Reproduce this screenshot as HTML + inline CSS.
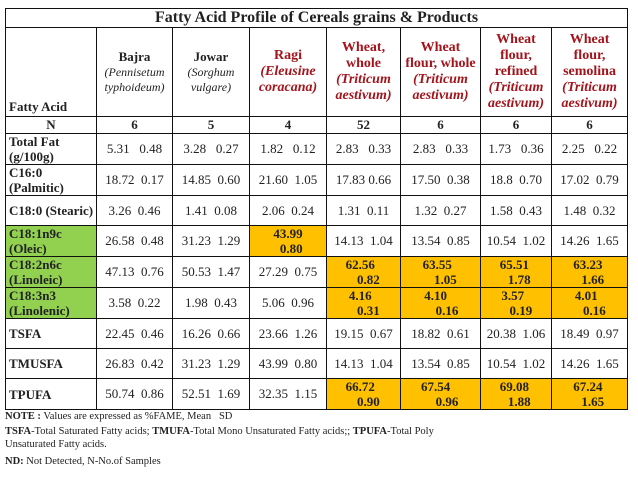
<!DOCTYPE html>
<html><head><meta charset="utf-8">
<style>
html,body{margin:0;padding:0;background:#fff;width:638px;height:479px;overflow:hidden;}
body{font-family:"Liberation Serif",serif;color:#222;position:relative;}
table{position:absolute;left:5px;top:8px;border-collapse:collapse;table-layout:fixed;width:622px;}
td{border:1px solid #111;padding:0;text-align:center;vertical-align:middle;font-size:13px;white-space:pre;overflow:hidden;}
td.lab{text-align:left;font-weight:bold;padding-left:3px;font-size:13px;line-height:15px;white-space:normal;}
.title{font-weight:bold;font-size:16px;}
.hd{font-size:12px;line-height:15px;white-space:normal;}
.hd b{font-size:13px;}
.red{color:#a3141c;font-weight:bold;font-size:14px;line-height:16px;white-space:nowrap;}
.red i{font-weight:bold;}
.n{font-weight:bold;font-size:13px;}
.g{background:#92d050;}
.y{background:#ffc000;font-weight:bold;line-height:15px;}
.note{position:absolute;left:5px;font-size:10.5px;color:#222;white-space:nowrap;line-height:12px;}
</style></head><body>
<table>
<colgroup><col style="width:91px"><col style="width:76px"><col style="width:77px"><col style="width:77px"><col style="width:74px"><col style="width:80px"><col style="width:71px"><col style="width:76px"></colgroup>
<tr style="height:19px"><td colspan="8" class="title">Fatty Acid Profile of Cereals grains &amp; Products</td></tr>
<tr style="height:89px">
<td class="lab" style="vertical-align:bottom;padding-bottom:2px">Fatty Acid</td>
<td class="hd"><b>Bajra</b><br><i>(Pennisetum typhoideum)</i></td>
<td class="hd"><b>Jowar</b><br><i>(Sorghum vulgare)</i></td>
<td class="red">Ragi<br><i>(Eleusine<br>coracana)</i></td>
<td class="red">Wheat,<br>whole<br><i>(Triticum<br>aestivum)</i></td>
<td class="red">Wheat<br>flour, whole<br><i>(Triticum<br>aestivum)</i></td>
<td class="red">Wheat<br>flour,<br>refined<br><i>(Triticum<br>aestivum)</i></td>
<td class="red">Wheat<br>flour,<br>semolina<br><i>(Triticum<br>aestivum)</i></td>
</tr>
<tr style="height:16px"><td class="n">N</td><td class="n">6</td><td class="n">5</td><td class="n">4</td><td class="n">52</td><td class="n">6</td><td class="n">6</td><td class="n">6</td></tr>
<tr style="height:30px"><td class="lab">Total Fat (g/100g)</td><td>5.31   0.48</td><td>3.28   0.27</td><td>1.82   0.12</td><td>2.83   0.33</td><td>2.83   0.33</td><td>1.73   0.36</td><td>2.25   0.22</td></tr>
<tr style="height:30px"><td class="lab">C16:0 (Palmitic)</td><td>18.72  0.17</td><td>14.85  0.60</td><td>21.60  1.05</td><td>17.83 0.66</td><td>17.50  0.38</td><td>18.8  0.70</td><td>17.02  0.79</td></tr>
<tr style="height:30px"><td class="lab">C18:0 (Stearic)</td><td>3.26  0.46</td><td>1.41  0.08</td><td>2.06  0.24</td><td>1.31  0.11</td><td>1.32  0.27</td><td>1.58  0.43</td><td>1.48  0.32</td></tr>
<tr style="height:29px"><td class="lab g">C18:1n9c (Oleic)</td><td>26.58  0.48</td><td>31.23  1.29</td><td class="y">43.99
  0.80</td><td>14.13  1.04</td><td>13.54  0.85</td><td>10.54  1.02</td><td>14.26  1.65</td></tr>
<tr style="height:30px"><td class="lab g">C18:2n6c (Linoleic)</td><td>47.13  0.76</td><td>50.53  1.47</td><td>27.29  0.75</td><td class="y">62.56  
   0.82</td><td class="y">63.55  
   1.05</td><td class="y">65.51 
  1.78</td><td class="y">63.23 
  1.66</td></tr>
<tr style="height:30px"><td class="lab g">C18:3n3 (Linolenic)</td><td>3.58  0.22</td><td>1.98  0.43</td><td>5.06  0.96</td><td class="y">4.16  
   0.31</td><td class="y">4.10   
    0.16</td><td class="y">3.57  
   0.19</td><td class="y">4.01  
   0.16</td></tr>
<tr style="height:30px"><td class="lab">TSFA</td><td>22.45  0.46</td><td>16.26  0.66</td><td>23.66  1.26</td><td>19.15  0.67</td><td>18.82  0.61</td><td>20.38  1.06</td><td>18.49  0.97</td></tr>
<tr style="height:30px"><td class="lab">TMUSFA</td><td>26.83  0.42</td><td>31.23  1.29</td><td>43.99  0.80</td><td>14.13  1.04</td><td>13.54  0.85</td><td>10.54  1.02</td><td>14.26  1.65</td></tr>
<tr style="height:30px"><td class="lab">TPUFA</td><td>50.74  0.86</td><td>52.51  1.69</td><td>32.35  1.15</td><td class="y">66.72  
   0.90</td><td class="y">67.54   
    0.96</td><td class="y">69.08 
  1.88</td><td class="y">67.24 
  1.65</td></tr>
</table>
<div class="note" style="top:411px"><b>NOTE :</b> Values are expressed as %FAME, Mean &nbsp; SD</div>
<div class="note" style="top:426px"><b>TSFA</b>-Total Saturated Fatty acids; <b>TMUFA</b>-Total Mono Unsaturated Fatty acids;; <b>TPUFA</b>-Total Poly</div>
<div class="note" style="top:439px">Unsaturated Fatty acids.</div>
<div class="note" style="top:456px"><b>ND:</b> Not Detected, N-No.of Samples</div>
</body></html>
